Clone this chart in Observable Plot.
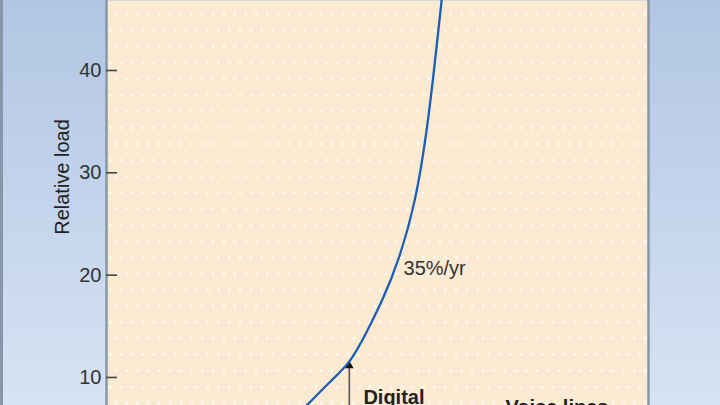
<!DOCTYPE html>
<html>
<head>
<meta charset="utf-8">
<script src="https://cdn.jsdelivr.net/npm/d3@7"></script>
<script src="https://cdn.jsdelivr.net/npm/@observablehq/plot@0.6"></script>
<style>
  html, body { margin: 0; padding: 0; background: #c4d4eb; }
  #chart {
    position: relative; width: 720px; height: 405px; overflow: hidden;
    background: linear-gradient(to bottom, #b2c6e3 0%, #c3d4ec 50%, #d7e3f3 100%);
  }
  #chart::before {
    content: ""; position: absolute; left: 0; top: 0; width: 3px; height: 405px;
    background: #8796aa;
  }
  #chart svg { position: absolute; left: 0; top: 0; }
</style>
</head>
<body>
<div id="chart"></div>
<script>
// Curve: year (arbitrary time axis) and relative load
const years = [1998.2, 1998.49, 1999.34, 2000.33, 2001.25, 2002.04, 2002.73, 2003.49, 2004.28, 2004.78, 2005.11, 2005.45, 2005.73, 2005.9];
const loads = [5.2, 5.72, 7.46, 9.66, 11.41, 14.59, 17.52, 21.43, 27.3, 34.14, 40.0, 46.84, 51.73, 55.0];
const yTicks = [10, 20, 30, 40];
const growthLabel = ["35%/yr"];
const growthAt = {year: 2003.7, load: 20.65};
const digitalLabel = ["Digital"];
const digitalAt = {year: 2001.85, load: 8.82};
const voiceLabel = ["Voice lines"];
const voiceAt = {year: 2008.4, load: 7.8};
const arrowAt = {year: 2001.2, from: 6.0, to: 11.35};
const yAxisTitle = "Relative load";

const curve = years.map((y, i) => ({year: y, load: loads[i]}));

function dotPattern(index, scales, values, dim) {
  const g = d3.create("svg:g");
  const p = g.append("defs").append("pattern")
    .attr("id", "dots").attr("patternUnits", "userSpaceOnUse")
    .attr("x", 124.7).attr("y", 109.7).attr("width", 10.8).attr("height", 32.4);
  p.append("circle").attr("cx", 2).attr("cy", 2).attr("r", 1.4).attr("fill", "#fffcf6");
  p.append("circle").attr("cx", 7.4).attr("cy", 18.2).attr("r", 1.4).attr("fill", "#fffcf6");
  g.append("rect")
    .attr("x", dim.marginLeft).attr("y", 0)
    .attr("width", dim.width - dim.marginLeft - dim.marginRight)
    .attr("height", dim.height)
    .attr("fill", "url(#dots)");
  return g.node();
}

const chart = Plot.plot({
  width: 720,
  height: 405,
  marginLeft: 106,
  marginRight: 72,
  marginTop: 0,
  marginBottom: 0,
  x: {domain: [1990, 2015], axis: null},
  y: {domain: [7.26, 46.84], axis: null},
  style: {background: "transparent", fontFamily: "'Liberation Sans', Arial, sans-serif", fontSize: "20px", color: "#333"},
  marks: [
    Plot.frame({fill: "#fbead2", stroke: null}),
    dotPattern,
    Plot.ruleX([1990, 2015], {stroke: "#8a96a5", strokeWidth: 2.5}),
    Plot.axisY(yTicks, {anchor: "left", tickSize: 11, dx: 11, tickFormat: () => "", stroke: "#444", strokeWidth: 1.6, label: null}),
    Plot.axisY(yTicks, {anchor: "left", tickSize: 0, tickPadding: 5, label: null, fontSize: 20, fill: "#333"}),
    Plot.text([yAxisTitle], {frameAnchor: "left", textAnchor: "middle", dx: -44, dy: -26, rotate: -90, fontSize: 20, fill: "#222"}),
    Plot.ruleX([arrowAt], {x: "year", y1: "from", y2: "to", stroke: "#555", strokeWidth: 1.6, clip: true}),
    Plot.dot([arrowAt], {x: "year", y: "to", symbol: "triangle", r: 3.2, fill: "#111", stroke: null, dy: 2}),
    Plot.line(curve, {x: "year", y: "load", stroke: "#1b5db5", strokeWidth: 2.3, curve: "basis", clip: true}),
    Plot.text(growthLabel, {x: () => growthAt.year, y: () => growthAt.load, textAnchor: "start", lineAnchor: "middle", fontSize: 20, fill: "#333"}),
    Plot.text(digitalLabel, {x: () => digitalAt.year, y: () => digitalAt.load, textAnchor: "start", lineAnchor: "top", fontSize: 20, fontWeight: "bold", fill: "#222"}),
    Plot.text(voiceLabel, {x: () => voiceAt.year, y: () => voiceAt.load, textAnchor: "start", lineAnchor: "top", fontSize: 20, fontWeight: "bold", fill: "#222"})
  ]
});
document.getElementById("chart").appendChild(chart);
</script>
</body>
</html>
